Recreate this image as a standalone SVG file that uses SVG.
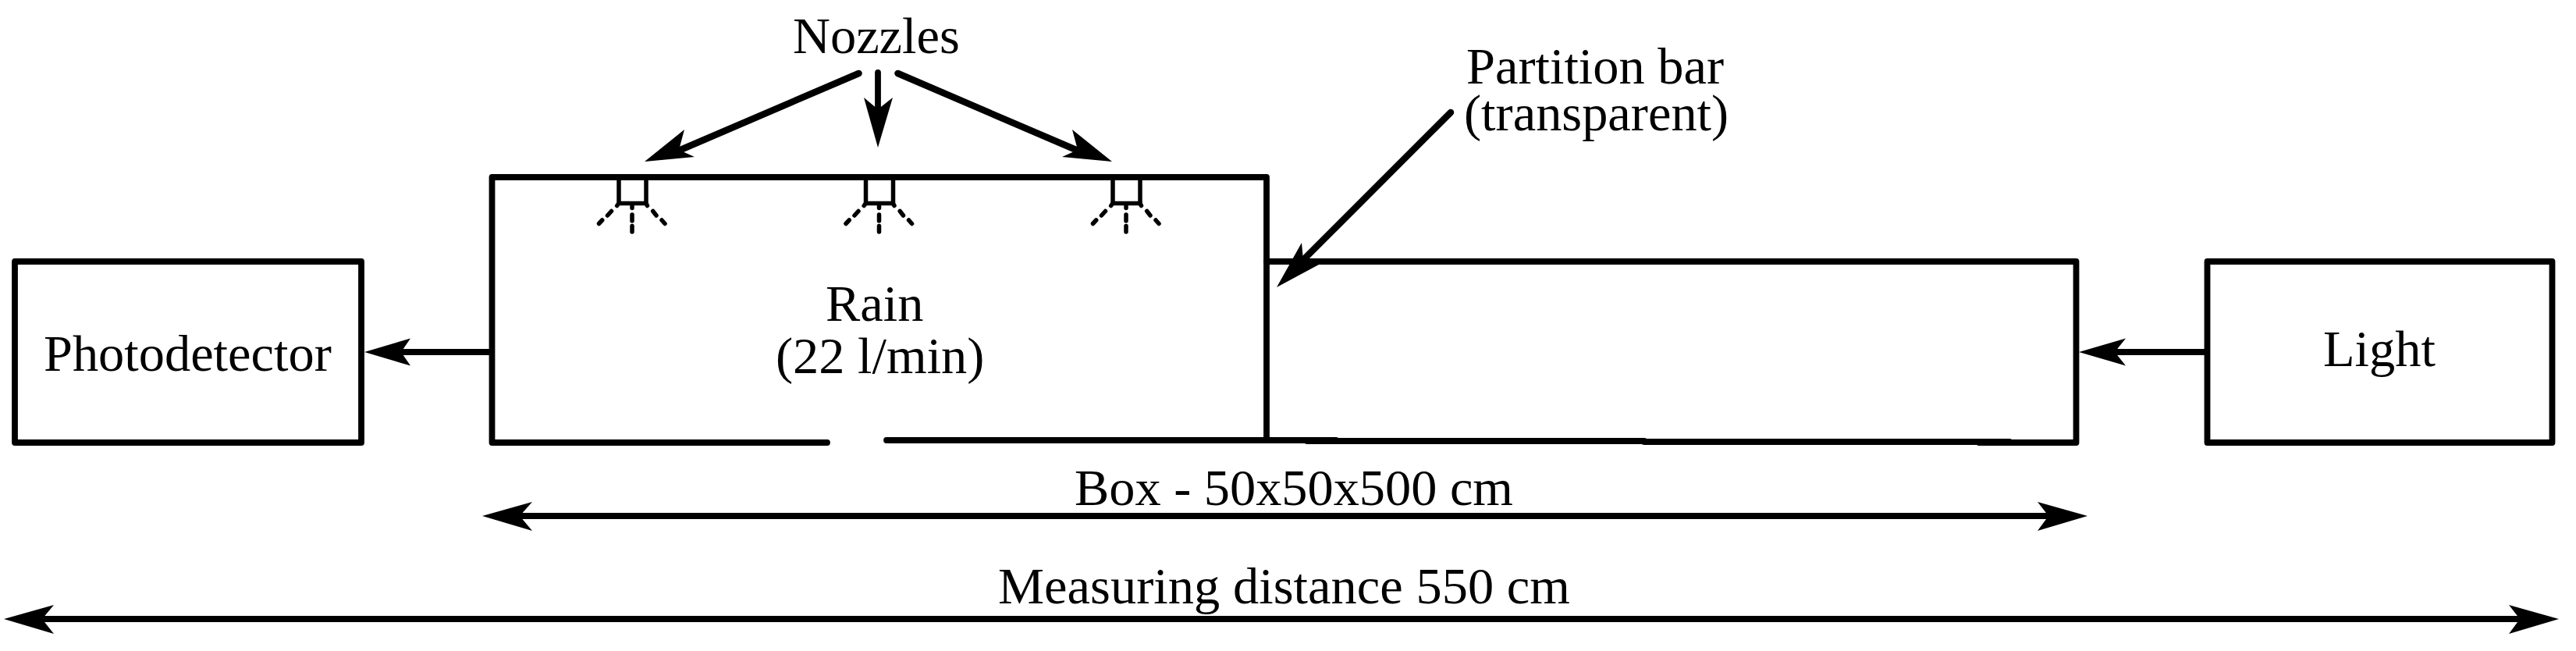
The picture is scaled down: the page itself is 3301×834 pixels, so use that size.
<svg xmlns="http://www.w3.org/2000/svg" xmlns:xlink="http://www.w3.org/1999/xlink" width="3301" height="834" viewBox="0 0 3301 834">
<style>
text{font-family:"Liberation Serif","Times New Roman",serif;font-size:66.400px;fill:#000}
.l{fill:none;stroke:#000;stroke-width:7.800;stroke-linecap:round;stroke-linejoin:round}
.a{fill:none;stroke:#000;stroke-width:8.500;stroke-linecap:round}
.n{fill:none;stroke:#000;stroke-width:5.500;stroke-linejoin:round}
.d{fill:none;stroke:#000;stroke-width:5.500;stroke-linecap:round}
.h{fill:#000;stroke:none}
</style>
<defs>
<g id="nozzle-shape">
<path class="n" d="M793 228V260.500H828V228"/>
<path class="d" d="M790.700 263.500L792.500 261M783.500 270.500L778.500 276M771.700 282L767.500 286.500M810 263.500V266.500M810 275V283M810 289.500V297M829.500 263.500L828 261M836.700 270.500L841 276M848 282L852 286.500"/>
</g>
</defs>
<rect width="3301" height="834" fill="#fff"/>
<g id="photodetector"><rect class="l" x="19" y="335" width="444" height="232"/><text x="56" y="475">Photodetector</text></g>
<g id="light"><rect class="l" x="2828.500" y="335" width="442" height="232"/><text x="2977" y="468.500">Light</text></g>
<g id="rain-box">
<path class="l" d="M1060 567H630.500V227H1623V564"/>
<path class="l" d="M1136 564H1712"/>
<text x="1058" y="411">Rain</text>
<text x="994" y="478">(22 l/min)</text>
</g>
<g id="light-path-box"><path class="l" d="M1623 335H2660.500V567H2536"/><path class="l" d="M2575 566H2107"/><path class="l" d="M2107 565H1675"/></g>
<g id="nozzle-1"><use href="#nozzle-shape"/></g>
<g id="nozzle-2"><use href="#nozzle-shape" x="316.500"/></g>
<g id="nozzle-3"><use href="#nozzle-shape" x="633"/></g>
<g id="labels">
<text x="1016" y="68">Nozzles</text>
<text x="1879" y="107">Partition bar</text>
<text x="1876" y="167">(transparent)</text>
<text x="1377" y="647" textLength="562">Box - 50x50x500 cm</text>
<text x="1279" y="773" textLength="733">Measuring distance 550 cm</text>
</g>
<g id="connectors">
<path class="l" d="M627 451H514"/><path class="h" d="M467 451L526 433.500L514 451L526 468.500Z"/>
<path class="l" d="M2825 451H2710"/><path class="h" d="M2664 451L2724 433.500L2710 451L2724 468.500Z"/>
<path class="l" d="M666 661H2625"/><path class="h" d="M618 661L682 643L666 661L682 680Z"/><path class="h" d="M2675 661L2611 643L2625 661L2611 680Z"/>
<path class="l" d="M54 793H3229"/><path class="h" d="M5 793L69 775L54 793L69 812Z"/><path class="h" d="M3279 793L3215 775L3229 793L3215 812Z"/>
<path class="a" d="M1100.500 94L872 192"/><path class="h" d="M826 207L877 166L870 192L890 201Z"/>
<path class="l" d="M1125 93V140"/><path class="h" d="M1125 189L1107 125L1125 140L1144 125Z"/>
<path class="a" d="M1150.500 94L1379 192"/><path class="h" d="M1425 207L1374 166L1381 192L1361 201Z"/>
<path class="a" d="M1859 144L1670 333"/><path class="h" d="M1636 368L1668 311L1670 333L1690 339Z"/>
</g>
</svg>
